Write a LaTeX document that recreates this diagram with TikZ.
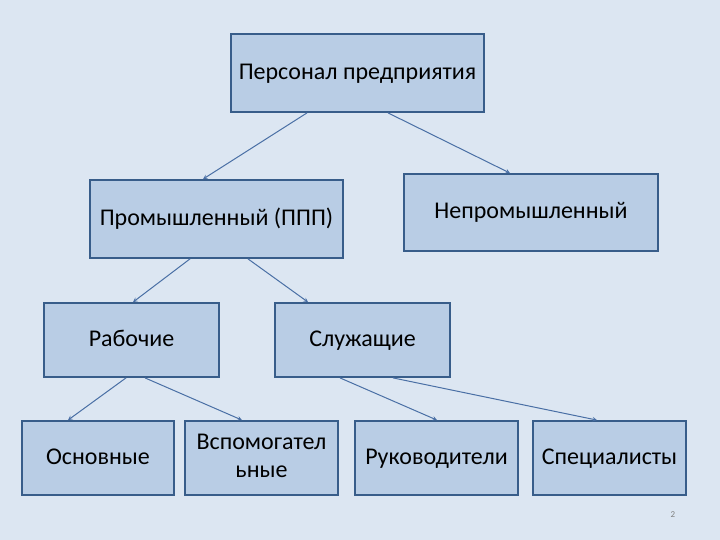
\documentclass[tikz,border=0pt]{standalone}
\usepackage{fontspec}
\setmainfont{Carlito}
\definecolor{bgfill}{HTML}{DCE6F2}
\definecolor{boxfill}{HTML}{B9CDE5}
\definecolor{boxline}{HTML}{385D8A}
\definecolor{arrowline}{HTML}{4A6FA5}
\newcommand\boxstrut{\rule[-4.6pt]{0pt}{22pt}}
\begin{document}
\begin{tikzpicture}[x=1pt,y=-1pt,
        boxdecorate/.style={shape=rectangle,draw=boxline,fill=boxfill,line width=1.8pt,
          inner sep=0pt,align=center,font=\fontsize{24}{28}\selectfont,
          execute at begin node=\boxstrut},%
        arrowdecorate/.style={->,>=stealth,draw=arrowline,line width=1pt,shorten >=0pt}]
        %% background
        \fill[bgfill] (0,0) rectangle (720,540);
        %% nodes or boxes
        \foreach \nodename/\x/\y/\w/\h/\caption in {top/357.5/73/253/78/{Персонал предприятия},
          prom/216.5/219/253/78/{Промышленный (ППП)}, neprom/531/212.5/254/77/{Непромышленный},
          rab/131.5/340/175/74/{Рабочие}, sluzh/362.5/340/175/74/{Служащие},
          osn/98/458/152/74/{Основные}, vsp/261.5/458/153/74/{Вспомогател\\ьные},
          ruk/436.5/458/163/74/{Руководители}, spec/609.5/458/153/74/{Специалисты}}
        {
          \node (\nodename) at (\x,\y) [boxdecorate,minimum width=\w pt,minimum height=\h pt] {\caption};
        }
        %% edges or lines
        \path
        \foreach \startnode/\sx/\endnode/\ex in {top/-50.5/prom/-13.5, top/30.5/neprom/-21,
          prom/-26.5/rab/1.5, prom/31.5/sluzh/-54.5, rab/-5.5/osn/-30, rab/13.5/vsp/-19.5,
          sluzh/-22.5/ruk/0.5, sluzh/30.5/spec/-12.5}
        {
          ([xshift=\sx pt]\startnode.south) edge[arrowdecorate] ([xshift=\ex pt]\endnode.north)
        };
        %% page number
        \node (pagenum) at (673,515) [font=\fontsize{9}{10}\selectfont,text=gray] {2};
      \end{tikzpicture}
\end{document}
